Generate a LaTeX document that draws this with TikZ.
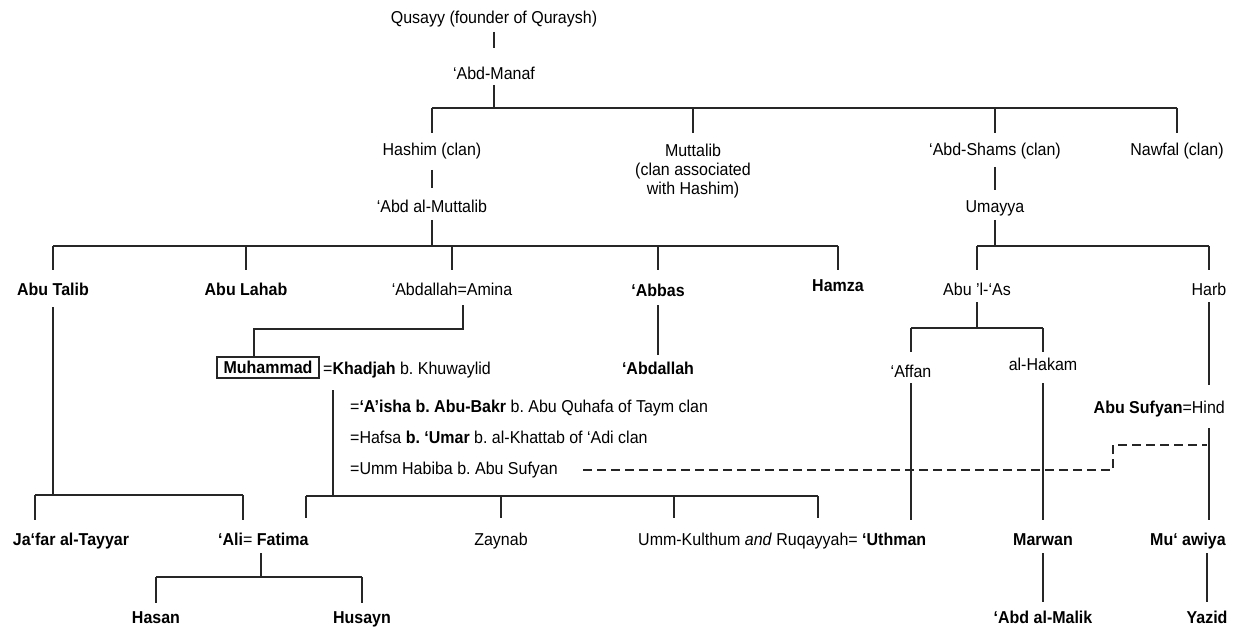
\documentclass[tikz,border=0pt]{standalone}
\usepackage{fontspec}
\setmainfont[FakeStretch=0.93]{Liberation Sans}
\begin{document}
\frenchspacing
\begin{tikzpicture}[x=1pt,y=-1pt,
  lbl/.style={inner sep=0pt, anchor=base, text=black, font=\fontsize{17.2}{19}\selectfont\frenchspacing},
  nb/.style={lbl, font=\fontsize{17.2}{19}\selectfont\bfseries},
  lblw/.style={lbl, anchor=base west},
  conn/.style={line width=1.15pt, draw=black!85},
  dashconn/.style={conn, dash pattern=on 9pt off 5pt}]
\useasboundingbox (0,0) rectangle (1233,628);

% ---------- nodes ----------
\node[lbl] (q) at (494,24) {Qusayy (founder of Quraysh)};
\node[lbl] (am) at (494,80) {‘Abd-Manaf};
\node[lbl] (hashim) at (432,155.5) {Hashim (clan)};
\node[lbl] (mut1) at (693,156.5) {Muttalib};
\node[lbl] (mut2) at (693,175.5) {(clan associated};
\node[lbl] (mut3) at (693,194.5) {with Hashim)};
\node[lbl] (ams) at (995,155.5) {‘Abd-Shams (clan)};
\node[lbl] (nawfal) at (1177,155.5) {Nawfal (clan)};
\node[lbl] (abdmut) at (432,213) {‘Abd al-Muttalib};
\node[lbl] (umayya) at (995,213) {Umayya};

\node[nb] (abutalib) at (53,295) {Abu Talib};
\node[nb] (abulahab) at (246,295) {Abu Lahab};
\node[lbl] (abdallah) at (452,295) {‘Abdallah=Amina};
\node[nb] (abbas) at (658,296) {‘Abbas};
\node[nb] (hamza) at (838,291) {Hamza};
\node[lbl] (abulas) at (977,295) {Abu ’l-‘As};
\node[lbl] (harb) at (1209,295) {Harb};

\node[draw, conn, inner sep=0pt, minimum width=102pt, minimum height=21pt,
      text=black, font=\fontsize{17.2}{19}\selectfont\bfseries] (muh) at (268,367.5) {Muhammad};
\node[lblw] (khadjah) at (323,374) {=\textbf{Khadjah} b. Khuwaylid};
\node[nb] (abd2) at (658,374) {‘Abdallah};
\node[lbl] (affan) at (911,377) {‘Affan};
\node[lbl] (hakam) at (1043,370) {al-Hakam};
\node[lblw] (aisha) at (350,412) {=\textbf{‘A’isha b. Abu-Bakr} b. Abu Quhafa of Taym clan};
\node[lblw] (hafsa) at (350,443) {=Hafsa \textbf{b. ‘Umar} b. al-Khattab of ‘Adi clan};
\node[lblw] (ummh) at (350,474) {=Umm Habiba b. Abu Sufyan};
\node[lbl, anchor=base east] (abusufyan) at (1225,413) {\textbf{Abu Sufyan}=Hind};

\node[nb] (jafar) at (71,545) {Ja‘far al-Tayyar};
\node[lblw] (alifat) at (218,545) {\textbf{‘Ali}=\ \textbf{Fatima}};
\node[lbl] (zaynab) at (501,545) {Zaynab};
\node[lblw] (ummk) at (638,545) {Umm-Kulthum \textit{and} Ruqayyah= \textbf{‘Uthman}};
\node[nb] (marwan) at (1043,545) {Marwan};
\node[nb] (muawiya) at (1188,545) {Mu‘ awiya};
\node[nb] (hasan) at (156,623.5) {Hasan};
\node[nb] (husayn) at (362,623.5) {Husayn};
\node[nb] (abdmalik) at (1043,623.5) {‘Abd al-Malik};
\node[nb] (yazid) at (1207,623.5) {Yazid};

% ---------- junction coordinates ----------
\coordinate (busA) at (0,108);   \coordinate (tickA) at (0,133);
\coordinate (busB) at (0,246);   \coordinate (tickB) at (0,270);
\coordinate (cW) at (254,329); \coordinate (cE) at (463,329);
\coordinate (busAs) at (0,328);  \coordinate (tickAs) at (0,352);
\coordinate (busT) at (0,495);   \coordinate (tickT) at (0,520);
\coordinate (busM) at (0,496);   \coordinate (tickM) at (0,518);
\coordinate (busH) at (0,577);   \coordinate (tickH) at (0,603);
\coordinate (jT1) at (35,0);  \coordinate (jT2) at (243,0);
\coordinate (mDown) at (333,390);
\coordinate (jF) at (306,0); \coordinate (jZ) at (501,0); \coordinate (jU) at (674,0); \coordinate (jR) at (818,0);
\coordinate (afDown) at (261,553);
\coordinate (low) at (0,520);
\coordinate (hindTop) at (1209,385); \coordinate (hindBot) at (1209,428);
\coordinate (dA) at (583,470); \coordinate (dB) at (1113,470); \coordinate (dC) at (1207,445);

% ---------- connectors ----------
\draw[conn] ([yshift=-8pt]q.base) -- ([yshift=32pt]am.base);
\draw[conn] ([yshift=-5pt]am.base) -- (am.base |- busA);
\draw[conn] (hashim.base |- busA) -- (nawfal.base |- busA);
\foreach \n in {hashim,mut1,ams,nawfal}
  \draw[conn] (\n.base |- busA) -- (\n.base |- tickA);
\draw[conn] ([yshift=-14.5pt]hashim.base) -- ([yshift=25pt]abdmut.base);
\draw[conn] ([yshift=-11.5pt]ams.base) -- ([yshift=23pt]umayya.base);

\draw[conn] ([yshift=-7pt]abdmut.base) -- (abdmut.base |- busB);
\draw[conn] (abutalib.base |- busB) -- (hamza.base |- busB);
\foreach \n in {abutalib,abulahab,abdallah,abbas,hamza}
  \draw[conn] (\n.base |- busB) -- (\n.base |- tickB);
\draw[conn] ([yshift=-7pt]umayya.base) -- (umayya.base |- busB);
\draw[conn] (abulas.base |- busB) -- (harb.base |- busB);
\foreach \n in {abulas,harb}
  \draw[conn] (\n.base |- busB) -- (\n.base |- tickB);

\draw[conn] ([xshift=11pt,yshift=-10pt]abdallah.base) -- (cE) -- (cW) -- (cW |- muh.north);
\draw[conn] ([yshift=-9pt]abbas.base) -- ([yshift=19pt]abd2.base);

\draw[conn] (mDown) -- (mDown |- busM);
\draw[conn] (jF |- busM) -- (jR |- busM);
\foreach \j in {jF,jZ,jU,jR}
  \draw[conn] (\j |- busM) -- (\j |- tickM);

\draw[conn] ([yshift=-12pt]abutalib.base) -- (abutalib.base |- busT);
\draw[conn] (jT1 |- busT) -- (jT2 |- busT);
\foreach \j in {jT1,jT2}
  \draw[conn] (\j |- busT) -- (\j |- tickT);

\draw[conn] (afDown) -- (afDown |- busH);
\draw[conn] (hasan.base |- busH) -- (husayn.base |- busH);
\foreach \n in {hasan,husayn}
  \draw[conn] (\n.base |- busH) -- (\n.base |- tickH);

\draw[conn] ([yshift=-7pt]abulas.base) -- (abulas.base |- busAs);
\draw[conn] (affan.base |- busAs) -- (hakam.base |- busAs);
\foreach \n in {affan,hakam}
  \draw[conn] (\n.base |- busAs) -- (\n.base |- tickAs);
\draw[conn] ([yshift=-6pt]affan.base) -- (affan.base |- low);
\draw[conn] ([yshift=-13pt]hakam.base) -- (hakam.base |- low);
\draw[conn] ([yshift=-8pt]marwan.base) -- ([yshift=21.5pt]abdmalik.base);

\draw[conn] ([yshift=-7pt]harb.base) -- (hindTop);
\draw[conn] (hindBot) -- (hindBot |- low);
\draw[conn] ([yshift=-8pt]yazid.base |- muawiya.base) -- ([yshift=21.5pt]yazid.base);

\draw[dashconn] (dA) -- (dB) |- (dC);
\end{tikzpicture}
\end{document}
